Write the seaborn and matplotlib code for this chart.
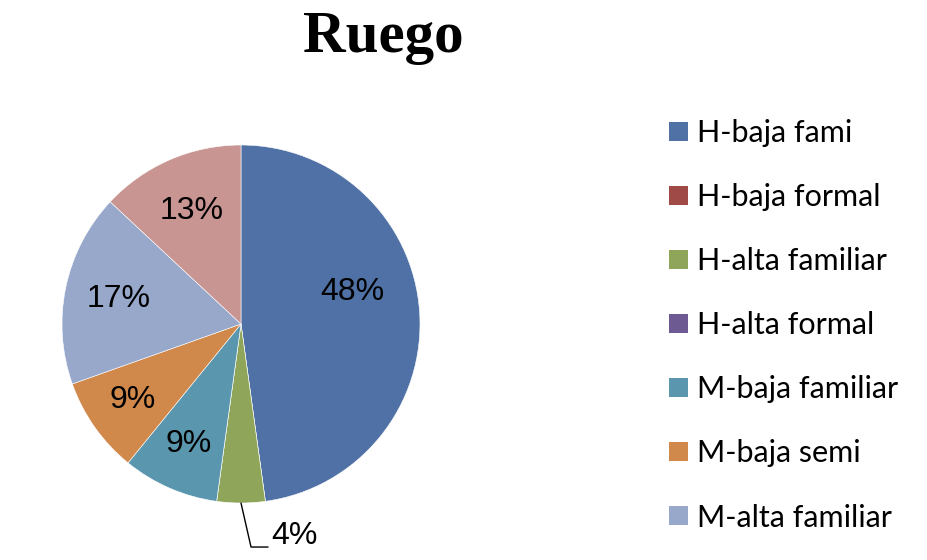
import numpy as np
import matplotlib
matplotlib.use("Agg")
import matplotlib.pyplot as plt
from matplotlib.patches import Patch
import seaborn as sns

categories = ["H-baja fami", "H-baja formal", "H-alta familiar", "H-alta formal",
              "M-baja familiar", "M-baja semi", "M-alta familiar", "M-alta formal"]
counts = [11, 0, 1, 0, 2, 2, 4, 3]
colors = ["#4F71A5", "#A04A48", "#8FA65A", "#6E5A92",
          "#5A97AE", "#D0884B", "#97A8CB", "#C89592"]
title = "Ruego"

sns.set_theme(style="white")
plt.rcParams["font.family"] = ["Liberation Sans", "DejaVu Sans"]
plt.rcParams["text.color"] = "black"

W, H = 928, 560
fig = plt.figure(figsize=(W / 100, H / 100), dpi=100)
cx, cy, r = 241, 324, 179
ax = fig.add_axes([(cx - r) / W, (H - cy - r) / H, 2 * r / W, 2 * r / H])

total = sum(counts)
outside_idx = 2  # small slice labelled outside

wedges, _ = ax.pie(counts, colors=colors, startangle=90, counterclock=False,
                   wedgeprops=dict(linewidth=0.4, edgecolor="white"))
ax.set_xlim(-1, 1)
ax.set_ylim(-1, 1)
ax.set_aspect("equal")
ax.axis("off")

label_dist = {0: 0.645, 4: 0.73, 5: 0.74, 6: 0.70, 7: 0.69}
angle_shift = {0: 12}
for i, (w, c) in enumerate(zip(wedges, counts)):
    if c == 0:
        continue
    pct = 100 * c / total
    mid = np.deg2rad((w.theta1 + w.theta2) / 2 + angle_shift.get(i, 0))
    if i == outside_idx:
        ex, ey = np.cos(mid), np.sin(mid)
        elbow = (ex + 0.056, ey - 0.246)
        end = (elbow[0] + 0.095, elbow[1])
        ax.plot([ex, elbow[0], end[0]], [ey, elbow[1], end[1]], color="black",
                lw=1.0, clip_on=False)
        ax.text(end[0] + 0.02, end[1] + 0.06, f"{pct:.0f}%", ha="left", va="center",
                fontsize=23, color="black", clip_on=False)
        continue
    d = label_dist.get(i, 0.7)
    ax.text(d * np.cos(mid), d * np.sin(mid), f"{pct:.0f}%", ha="center", va="center",
            fontsize=23, color="black")

fig.text(383 / W, 1 - 38 / H, title, ha="center", va="center", fontsize=42.5,
         fontweight="bold", color="black", family=["Liberation Serif", "DejaVu Serif"])

handles = [Patch(facecolor=col, edgecolor="none") for col in colors[:7]]
leg = fig.legend(handles, categories[:7], loc="upper left",
                 bbox_to_anchor=(657 / W, 1 - 107 / H), frameon=False,
                 prop=dict(family=["Lato", "DejaVu Sans"], size=22),
                 handlelength=0.6, handleheight=0.6, handletextpad=0.3,
                 labelspacing=1.18, borderaxespad=0)
for t in leg.get_texts():
    t.set_color("black")

fig.savefig("out.png", dpi=100, facecolor="white")
